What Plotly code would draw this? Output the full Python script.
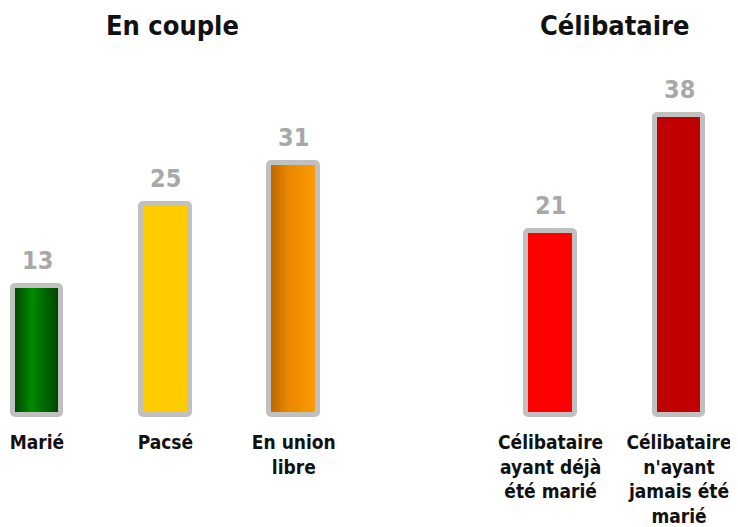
import plotly.graph_objects as go

# ---------------- data ----------------
categories = ["Marié", "Pacsé", "En union<br>libre",
              "Célibataire<br>ayant déjà<br>été marié",
              "Célibataire<br>n'ayant<br>jamais été<br>marié"]
positions = [0, 1, 2, 4, 5]
values = [13, 25, 31, 21, 38]
group_titles = ["En couple", "Célibataire"]
# colour stops across each bar (left, middle, right)
color_stops = [
    ("#003d00", "#008a00", "#003d00"),
    ("#ffcc00", "#ffcc00", "#ffcc00"),
    ("#b86400", "#e98800", "#ff9c00"),
    ("#ff0000", "#ff0000", "#ff0000"),
    ("#c00000", "#c00000", "#c00000"),
]

# ---------------- style ----------------
BASE = -6
W = 0.38
N = 30
FONT = "DejaVu Sans Condensed"
FIG_W, FIG_H = 730, 519   # page body has an 8px margin


def hex2rgb(h):
    h = h.lstrip("#")
    return tuple(int(h[i:i + 2], 16) for i in (0, 2, 4))


def mix(c1, c2, t):
    a, b = hex2rgb(c1), hex2rgb(c2)
    return "rgb(%d,%d,%d)" % tuple(round(a[k] + (b[k] - a[k]) * t) for k in range(3))


def stop_color(stops, t):
    l, m, r = stops
    if t < 0.4:
        return mix(l, m, t / 0.4)
    return mix(m, r, (t - 0.4) / 0.6)


fig = go.Figure()

# gradient strips
sx, sy, soff, swid, scol = [], [], [], [], []
for p, v, st in zip(positions, values, color_stops):
    if st[0] == st[1] == st[2]:
        continue
    for i in range(N):
        t = (i + 0.5) / N
        sx.append(p)
        sy.append(v - BASE)
        soff.append(-W / 2 + i * W / N)
        swid.append(W / N * 1.15)
        scol.append(stop_color(st, t))

fig.add_trace(go.Bar(
    x=sx, y=sy, base=BASE, offset=soff, width=swid,
    marker=dict(color=scol, line=dict(width=0)),
    hoverinfo="skip", showlegend=False,
))

# outline / solid bars
fills = [st[0] if st[0] == st[1] == st[2] else "rgba(0,0,0,0)" for st in color_stops]
fig.add_trace(go.Bar(
    x=positions, y=[v - BASE for v in values], base=BASE, width=W,
    marker=dict(color=fills, line=dict(color="#c0c0c0", width=5), cornerradius=3),
    cliponaxis=False, showlegend=False,
))

annotations = [
    dict(text=str(v), x=p, y=v, xref="x", yref="y", yanchor="bottom", yshift=9,
         showarrow=False, font=dict(family=FONT, size=25, color="#a8a8a8", weight="bold"))
    for p, v in zip(positions, values)
]
annotations += [
    dict(text=group_titles[0], xref="paper", yref="paper", x=164 / FIG_W, y=1.187,
         yanchor="middle", xanchor="center",
         showarrow=False, font=dict(family=FONT, size=27, color="#111111", weight="bold")),
    dict(text=group_titles[1], xref="paper", yref="paper", x=607 / FIG_W, y=1.187,
         yanchor="middle", xanchor="center",
         showarrow=False, font=dict(family=FONT, size=27, color="#111111", weight="bold")),
]

fig.update_layout(
    width=FIG_W, height=FIG_H,
    margin=dict(l=0, r=0, t=80, b=105),
    barmode="overlay",
    paper_bgcolor="white", plot_bgcolor="white",
    bargap=0,
    xaxis=dict(range=[-29 / 128.4, 701 / 128.4], tickvals=positions, ticktext=categories,
               showgrid=False, zeroline=False, showline=False, automargin=False,
               ticks="outside", ticklen=3, tickcolor="rgba(0,0,0,0)",
               tickfont=dict(family=FONT, size=19, color="#111111", weight="bold")),
    yaxis=dict(range=[-7, 42], visible=False, automargin=False),
    annotations=annotations,
)

fig.write_html("out.html")
